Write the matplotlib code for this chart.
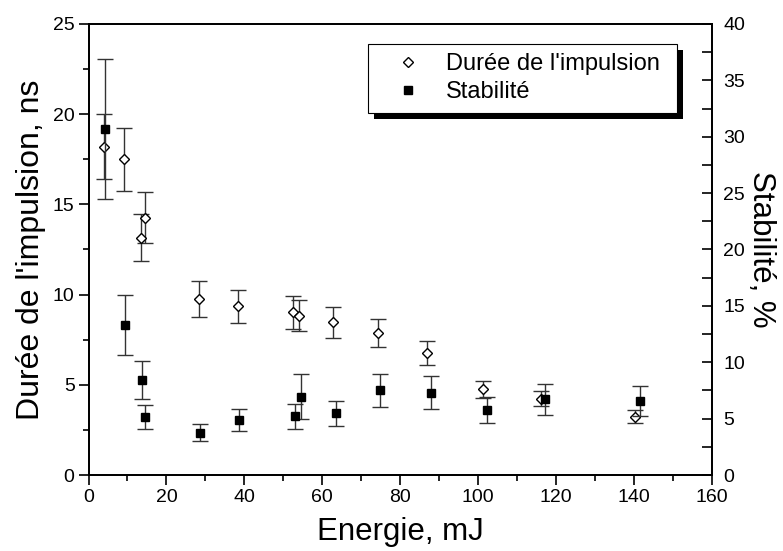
import matplotlib
matplotlib.use("Agg")
import matplotlib.pyplot as plt
from matplotlib.patches import Rectangle
from matplotlib.transforms import IdentityTransform
from matplotlib.ticker import MultipleLocator

plt.rcParams['font.family'] = ['Liberation Sans', 'DejaVu Sans']

# Durée de l'impulsion (left axis, ns)
x_duree = [4.1, 9.2, 13.4, 14.5, 28.4, 38.3, 52.6, 54.0, 62.8, 74.2, 86.9, 101.2, 116.0, 140.2]
duree = [18.2, 17.5, 13.15, 14.26, 9.76, 9.35, 9.02, 8.83, 8.46, 7.87, 6.76, 4.74, 4.24, 3.24]
duree_err = [1.8, 1.75, 1.3, 1.4, 1.0, 0.93, 0.9, 0.87, 0.85, 0.77, 0.68, 0.46, 0.44, 0.35]

# Stabilité (right axis, %)
x_stab = [4.3, 9.3, 13.7, 14.6, 28.7, 38.7, 53.0, 54.5, 63.4, 74.8, 87.8, 102.2, 117.1, 141.4]
stab = [30.7, 13.3, 8.41, 5.13, 3.76, 4.89, 5.19, 6.93, 5.48, 7.5, 7.29, 5.75, 6.73, 6.52]
stab_err = [6.2, 2.67, 1.7, 1.05, 0.77, 1.0, 1.07, 2.0, 1.1, 1.45, 1.45, 1.14, 1.38, 1.33]

W, H = 783, 551
fig = plt.figure(figsize=(W / 100, H / 100), dpi=100)
ax = fig.add_axes([88.5 / W, 1 - 475 / H, (712 - 88.5) / W, (475 - 24) / H])
ax2 = ax.twinx()

err_col = '#333333'
ax.errorbar(x_duree, duree, yerr=duree_err, fmt='D', ms=5.6, mfc='white', mec='black',
            mew=1.0, ecolor=err_col, elinewidth=1.0, capsize=6, capthick=1.0,
            label="Durée de l'impulsion")
ax2.errorbar(x_stab, stab, yerr=stab_err, fmt='s', ms=5.4, mfc='black', mec='black',
             ecolor=err_col, elinewidth=1.0, capsize=6, capthick=1.0, label='Stabilité')

ax.set_xlim(0, 160)
ax.set_ylim(0, 25)
ax2.set_ylim(0, 40)

ax.xaxis.set_major_locator(MultipleLocator(20))
ax.xaxis.set_minor_locator(MultipleLocator(10))
ax.yaxis.set_major_locator(MultipleLocator(5))
ax.yaxis.set_minor_locator(MultipleLocator(2.5))
ax2.yaxis.set_major_locator(MultipleLocator(5))
ax2.yaxis.set_minor_locator(MultipleLocator(2.5))

for a in (ax, ax2):
    for s in a.spines.values():
        s.set_linewidth(1.3)

# bottom / left: ticks outward
ax.tick_params(axis='x', which='major', direction='out', length=7, width=1.2,
               top=False, labelsize=14, pad=3)
ax.tick_params(axis='x', which='minor', direction='out', length=4, width=1.2, top=False)
ax.tick_params(axis='y', which='major', direction='out', length=7, width=1.2,
               right=False, labelsize=14, pad=3)
ax.tick_params(axis='y', which='minor', direction='out', length=4, width=1.2, right=False)

# top / right: ticks inward
ax2.tick_params(axis='x', which='both', direction='in', length=7, width=1.2,
                top=True, bottom=False, labeltop=False, labelbottom=False)
ax2.tick_params(axis='y', which='both', direction='in', length=7, width=1.2,
                right=True, left=False, labelsize=14, pad=8)

ax.set_xlabel('Energie, mJ', fontsize=22.5, labelpad=8)
ax.set_ylabel("Durée de l'impulsion, ns", fontsize=23, labelpad=5)
ax2.set_ylabel('Stabilité, %', fontsize=22.5, rotation=270, labelpad=22)

h1, l1 = ax.get_legend_handles_labels()
h2, l2 = ax2.get_legend_handles_labels()
x0 = (368 - 88.5) / (712 - 88.5)
y1 = (475 - 44) / (475 - 24)
w = (677 - 368) / (712 - 88.5)
hgt = (112 - 44) / (475 - 24)
leg = ax2.legend([hh[0] for hh in h1 + h2], l1 + l2, loc='upper left',
                 bbox_to_anchor=(x0, y1 - hgt, w, hgt), mode='expand', borderaxespad=0,
                 fontsize=17, frameon=True, fancybox=False, edgecolor='black',
                 framealpha=1, borderpad=0.4, handlelength=2.6, handletextpad=0.3,
                 labelspacing=0.25, numpoints=1, markerscale=0.95)
leg.get_frame().set_linewidth(0.8)

# solid black drop shadow behind the legend box
fig.canvas.draw()
bb = leg.get_window_extent()
shadow = Rectangle((bb.x0 + 6, bb.y0 - 6), bb.width, bb.height, transform=IdentityTransform(),
                   facecolor='black', edgecolor='none', zorder=4.5)
ax2.add_artist(shadow)

fig.savefig('out.png', dpi=100)
